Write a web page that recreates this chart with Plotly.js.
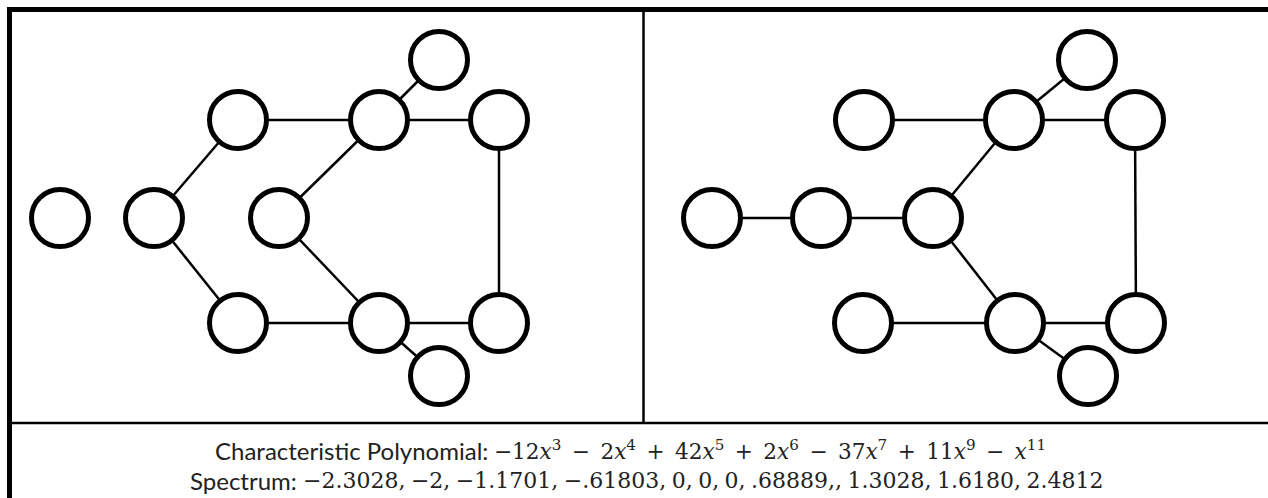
<!DOCTYPE html>
<html><head><meta charset="utf-8">
<script src="https://cdn.plot.ly/plotly-3.0.1.min.js"></script>
<style>html,body{margin:0;padding:0;background:#fff;} #chart{width:1268px;height:498px;}</style>
</head><body><div id="chart"></div>
<script>
// Left graph: 0 isolated, 1 A, 2 B, 3 C, 4 D, 5 E, 6 F, 7 G, 8 H, 9 I, 10 J
const leftNodeX = [60, 154, 238, 238, 279, 379, 379, 439, 499, 499, 439];
const leftNodeY = [218, 218, 120, 323, 218, 120, 323, 60, 120, 323, 376];
const leftEdges = [[1,2],[1,3],[2,5],[5,7],[5,8],[5,4],[4,6],[3,6],[6,9],[6,10],[8,9]];
// Right graph
const rightNodeX = [712, 821, 933, 864, 1014, 1087, 1135, 863, 1015, 1088, 1136];
const rightNodeY = [218, 218, 218, 120, 120, 60, 120, 323, 323, 376, 323];
const rightEdges = [[0,1],[1,2],[2,4],[2,8],[3,4],[4,5],[4,6],[6,10],[7,8],[8,10],[8,9]];

const polyLabel = "Characteristic Polynomial:";
const polyCoefficients = ["−12", "2", "42", "2", "37", "11", ""];
const polyExponents = ["3", "4", "5", "6", "7", "9", "11"];
const polyOperators = ["", "−", "+", "+", "−", "+", "−"];
const spectrumLabel = "Spectrum:";
const spectrumValues = ["−2.3028", "−2", "−1.1701", "−.61803", "0", "0", "0", ".68889", "", "1.3028", "1.6180", "2.4812"];

function edgeTrace(xs, ys, edges) {
  const ex = [], ey = [];
  edges.forEach(([a, b]) => { ex.push(xs[a], xs[b], null); ey.push(ys[a], ys[b], null); });
  return {x: ex, y: ey, mode: 'lines', type: 'scatter', line: {color: '#000', width: 2.5}, hoverinfo: 'skip'};
}
function nodeTrace(xs, ys) {
  return {x: xs, y: ys, mode: 'markers', type: 'scatter',
    marker: {symbol: 'circle', size: 57, color: '#fff', line: {color: '#000', width: 5}}, hoverinfo: 'skip'};
}

const data = [
  edgeTrace(leftNodeX, leftNodeY, leftEdges),
  edgeTrace(rightNodeX, rightNodeY, rightEdges),
  nodeTrace(leftNodeX, leftNodeY),
  nodeTrace(rightNodeX, rightNodeY)
];

const sp = '\u00A0\u2006';
const polyText = polyCoefficients.map((c, i) =>
  (polyOperators[i] ? sp + polyOperators[i] + sp : '') + c + '<i>x</i><sup>' + polyExponents[i] + '</sup>').join('');
const spectrumText = spectrumValues.join(',\u2005').replace(',\u2005,\u2005', ',,\u2005');

const labelFont = {family: 'Lato, sans-serif', size: 24, color: '#222'};
const polyFont = {family: '"DejaVu Serif", serif', size: 21.6, color: '#222'};
const mathFont = {family: '"DejaVu Serif", serif', size: 22, color: '#222'};

const layout = {
  width: 1268, height: 498,
  margin: {l: 0, r: 0, t: 0, b: 0},
  paper_bgcolor: '#fff', plot_bgcolor: '#fff',
  showlegend: false,
  xaxis: {range: [0, 1268], visible: false, fixedrange: true},
  yaxis: {range: [498, 0], visible: false, fixedrange: true},
  shapes: [
    {type: 'line', xref: 'x', yref: 'y', x0: 9.5, x1: 9.5, y0: 7, y1: 510, line: {color: '#000', width: 5}},
    {type: 'line', xref: 'x', yref: 'y', x0: 7, x1: 1280, y0: 9.5, y1: 9.5, line: {color: '#000', width: 5}},
    {type: 'line', xref: 'x', yref: 'y', x0: 643.5, x1: 643.5, y0: 10, y1: 423, line: {color: '#000', width: 2.5}},
    {type: 'line', xref: 'x', yref: 'y', x0: 10, x1: 1280, y0: 423, y1: 423, line: {color: '#000', width: 2.5}}
  ],
  annotations: [
    {xref: 'x', yref: 'y', x: 490, y: 450, xanchor: 'right', yanchor: 'middle', showarrow: false, text: polyLabel, font: labelFont},
    {xref: 'x', yref: 'y', x: 492, y: 450, xanchor: 'left', yanchor: 'middle', showarrow: false, text: polyText, font: polyFont},
    {xref: 'x', yref: 'y', x: 299, y: 480, xanchor: 'right', yanchor: 'middle', showarrow: false, text: spectrumLabel, font: labelFont},
    {xref: 'x', yref: 'y', x: 301, y: 480, xanchor: 'left', yanchor: 'middle', showarrow: false, text: spectrumText, font: mathFont}
  ]
};

Plotly.newPlot('chart', data, layout, {staticPlot: true, displayModeBar: false});
</script>
</body></html>
